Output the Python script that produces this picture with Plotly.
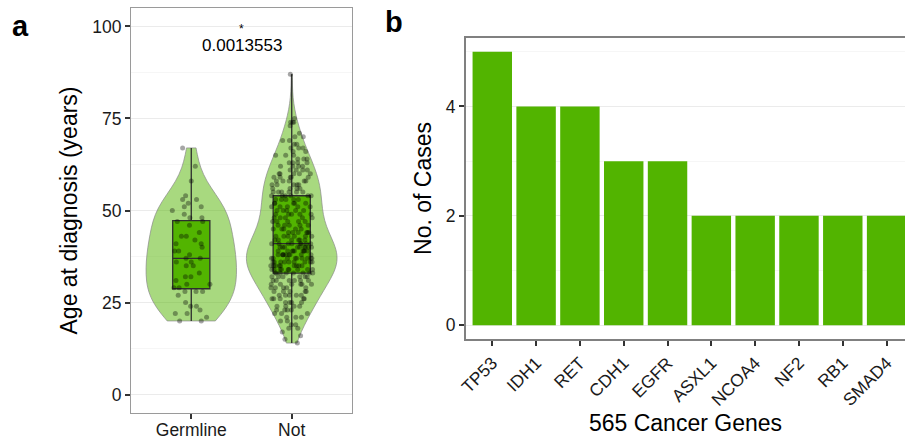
import plotly.graph_objects as go

# ---- data -------------------------------------------------------------
groups = ["Germline", "Not"]

germline_age = [
    67, 62, 58, 54, 53, 53, 52, 51, 51, 50, 49, 48, 48, 47, 47, 46, 44, 43,
    43, 42, 41, 41, 40, 39, 39, 38, 37, 37, 36, 36, 35, 35, 33, 32, 32, 31,
    30, 30, 29, 29, 28, 28, 28, 27, 25, 24, 24, 23, 22, 22, 21, 20, 20,
]

not_age = [
    87, 75, 74, 74, 74, 73, 71, 70, 70, 69, 69, 68, 68, 67, 67, 67, 66, 66,
    65, 65, 65, 64, 64, 64, 63, 63, 63, 63, 62, 62, 62, 62, 61, 61, 61, 61,
    60, 60, 60, 60, 60, 59, 59, 59, 59, 59, 58, 58, 58, 58, 58, 57, 57, 57,
    57, 57, 56, 56, 56, 56, 55, 55, 55, 55, 55, 55,
    54, 54, 54, 54, 54, 54, 53, 53, 53, 53, 53, 52, 52, 52, 52, 52,
    51, 51, 51, 51, 51, 50, 50, 50, 50, 50, 49, 49, 49, 49, 49,
    48, 48, 48, 48, 48, 47, 47, 47, 47, 47, 46, 46, 46, 46, 46,
    45, 45, 45, 45, 45, 44, 44, 44, 44, 44, 44, 43, 43, 43, 43, 43, 43,
    42, 42, 42, 42, 42, 42, 41, 41, 41, 41, 41, 41, 41, 41,
    40, 40, 40, 40, 40, 40, 40, 40, 40, 39, 39, 39, 39, 39, 39, 39, 39, 39,
    38, 38, 38, 38, 38, 38, 38, 38, 38, 37, 37, 37, 37, 37, 37, 37, 37, 37,
    36, 36, 36, 36, 36, 36, 36, 36, 36, 35, 35, 35, 35, 35, 35, 35, 35, 35,
    34, 34, 34, 34, 34, 34, 34, 34, 34, 33, 33, 33, 33, 33, 33, 33, 33,
    32, 32, 32, 32, 32, 32, 31, 31, 31, 31, 31, 31, 30, 30, 30, 30, 30, 30,
    29, 29, 29, 29, 29, 28, 28, 28, 28, 28, 27, 27, 27, 27, 27,
    26, 26, 26, 26, 26, 25, 25, 25, 25, 24, 24, 24, 24, 23, 23, 23, 23,
    22, 22, 22, 21, 21, 21, 20, 20, 19, 19, 18, 18, 17, 16, 15, 14,
]

p_value_label = "0.0013553"

genes = ["TP53", "IDH1", "RET", "CDH1", "EGFR",
         "ASXL1", "NCOA4", "NF2", "RB1", "SMAD4"]
case_counts = [5, 4, 4, 3, 3, 2, 2, 2, 2, 2]

# ---- styling ----------------------------------------------------------
GREEN = "#52B400"
GREEN_SOFT = "rgba(82,180,0,0.5)"
FONT = "Liberation Sans, Arial, Helvetica, sans-serif"
TICK_SIZE = 17.5
TITLE_SIZE = 23
W, H = 905, 440

fig = go.Figure()

# panel a: violin + box + jittered points per group
for name, ages in zip(groups, [germline_age, not_age]):
    xs = [name] * len(ages)
    fig.add_trace(go.Violin(
        x=xs, y=ages, points=False, spanmode="hard",
        width=0.9, scalemode="width",
        fillcolor=GREEN_SOFT, line=dict(color="#8a8a8a", width=0.7),
        box_visible=False, meanline_visible=False,
        showlegend=False, hoverinfo="skip",
        xaxis="x", yaxis="y",
    ))
    fig.add_trace(go.Box(
        x=xs, y=ages, boxpoints=False, width=0.37,
        fillcolor=GREEN, line=dict(color="#2e2e2e", width=1.3),
        whiskerwidth=0, showlegend=False, hoverinfo="skip",
        xaxis="x", yaxis="y",
    ))
    fig.add_trace(go.Box(
        x=xs, y=ages, boxpoints="all", jitter=1, pointpos=0, width=0.42,
        fillcolor="rgba(0,0,0,0)", line=dict(color="rgba(0,0,0,0)", width=0),
        whiskerwidth=0,
        marker=dict(color="rgba(0,0,0,0.35)", size=5, line=dict(width=0)),
        showlegend=False, hoverinfo="y",
        xaxis="x", yaxis="y",
    ))

# panel b: cases per gene
fig.add_trace(go.Bar(
    x=genes, y=case_counts, width=0.9, marker=dict(color=GREEN, line=dict(width=0)),
    showlegend=False, xaxis="x2", yaxis="y2",
))

axis_common = dict(
    ticks="outside", ticklen=5, tickwidth=1.5, tickcolor="#333333",
    tickfont=dict(family=FONT, size=TICK_SIZE, color="#1a1a1a"),
    zeroline=False, automargin=False,
)

fig.update_layout(
    width=W, height=H,
    margin=dict(l=0, r=0, t=0, b=0),
    paper_bgcolor="white", plot_bgcolor="white",
    font=dict(family=FONT, color="black"),
    boxmode="overlay", violinmode="overlay",
    xaxis=dict(
        domain=[131 / W, 352 / W], anchor="y", type="category",
        categoryorder="array", categoryarray=groups,
        range=[-0.6, 1.6], showgrid=False,
        showline=True, linecolor="#9a9a9a", linewidth=1, mirror=True,
        ticklabelstandoff=-4,
        **axis_common,
    ),
    yaxis=dict(
        domain=[1 - 413 / H, 1 - 8 / H], anchor="x", range=[-5, 105],
        tickvals=[0, 25, 50, 75, 100],
        showgrid=True, gridcolor="#ebebeb", gridwidth=1,
        minor=dict(dtick=12.5, tick0=0, showgrid=True, gridcolor="#f6f6f6",
                   gridwidth=1, ticks=""),
        showline=True, linecolor="#9a9a9a", linewidth=1, mirror=True,
        title=dict(text="Age at diagnosis (years)", standoff=8,
                   font=dict(family=FONT, size=TITLE_SIZE, color="black")),
        **axis_common,
    ),
    xaxis2=dict(
        domain=[466 / W, 1.0], anchor="y2", type="category",
        categoryorder="array", categoryarray=genes,
        range=[-0.6, 9.42], showgrid=False, tickangle=-45,
        showline=True, linecolor="#808080", linewidth=2, mirror=True,
        title=dict(text="565 Cancer Genes", standoff=6,
                   font=dict(family=FONT, size=TITLE_SIZE, color="black")),
        **axis_common,
    ),
    yaxis2=dict(
        domain=[1 - 339 / H, 1 - 38 / H], anchor="x2", range=[-0.25, 5.25],
        tickvals=[0, 2, 4],
        showgrid=True, gridcolor="#ebebeb", gridwidth=1,
        minor=dict(dtick=1, tick0=0, showgrid=True, gridcolor="#f6f6f6",
                   gridwidth=1, ticks=""),
        showline=True, linecolor="#808080", linewidth=2, mirror=False,
        title=dict(text="No. of Cases", standoff=8,
                   font=dict(family=FONT, size=TITLE_SIZE, color="black")),
        **axis_common,
    ),
)

# significance label between the two groups
fig.add_annotation(x=0.5, y=94.8, xref="x", yref="y", text=p_value_label,
                   showarrow=False, xanchor="center", yanchor="middle",
                   font=dict(family=FONT, size=17, color="black"))
fig.add_annotation(x=0.5, y=99.2, xref="x", yref="y", text="*",
                   showarrow=False, xanchor="center", yanchor="middle",
                   font=dict(family=FONT, size=12, color="black"))

# panel letters (positions given in pixels from the top-left corner)
for letter, px, py in [("a", 20, 26), ("b", 394, 22)]:
    fig.add_annotation(x=px / W, y=1 - py / H, xref="paper", yref="paper",
                       text=f"<b>{letter}</b>", showarrow=False,
                       xanchor="center", yanchor="middle",
                       font=dict(family=FONT, size=29, color="black"))

fig.write_html("out.html")
